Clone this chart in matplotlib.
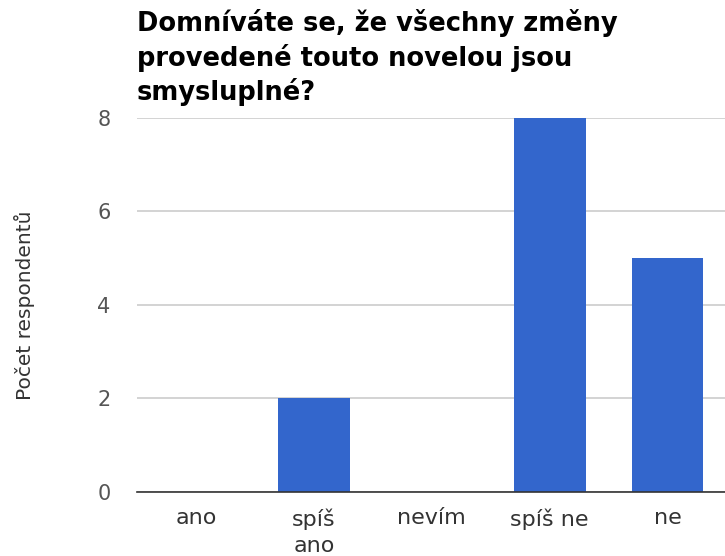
import matplotlib
matplotlib.use("Agg")
import matplotlib.pyplot as plt

categories = ["ano", "spíš\nano", "nevím", "spíš ne", "ne"]
values = [0, 2, 0, 8, 5]
yticks = [0, 2, 4, 6, 8]
title = "Domníváte se, že všechny změny\nprovedené touto novelou jsou\nsmysluplné?"
ylabel = "Počet respondentů"

plt.rcParams['font.family'] = ['DejaVu Sans']

W, H = 725, 556
fig = plt.figure(figsize=(W / 100, H / 100), dpi=100)
ax = fig.add_axes([137 / W, 1 - 491.5 / H, (W - 137) / W + 0.002, (491.5 - 118) / H])

x = list(range(len(categories)))
ax.bar(x, values, width=0.61, color="#3366CC", zorder=3)
ax.set_xlim(-0.5, len(categories) - 0.5)
ax.set_ylim(0, 8)
ax.set_yticks(yticks)
ax.set_yticklabels([str(v) for v in yticks], fontsize=15, color="#555555")
ax.set_xticks(x)
ax.set_xticklabels(categories, fontsize=16, color="#333333", linespacing=1.4)
ax.tick_params(axis="both", length=0)
ax.tick_params(axis="y", pad=19)
ax.tick_params(axis="x", pad=12)
for s in ["top", "right", "left"]:
    ax.spines[s].set_visible(False)
ax.spines["bottom"].set_color("#333333")
ax.spines["bottom"].set_linewidth(1.2)
ax.spines["bottom"].set_zorder(4)
ax.grid(axis="y", color="#cccccc", linewidth=1.2, zorder=0)
ax.set_axisbelow(True)

fig.text(25 / W, 1 - 305 / H, ylabel, rotation=90, ha="center", va="center",
         fontsize=14.5, color="#333333")
fig.text(137 / W, 1 - 9 / H, title, ha="left", va="top", fontsize=18.5,
         fontweight="bold", color="#000000", linespacing=1.3)

fig.savefig("out.png", dpi=100)
